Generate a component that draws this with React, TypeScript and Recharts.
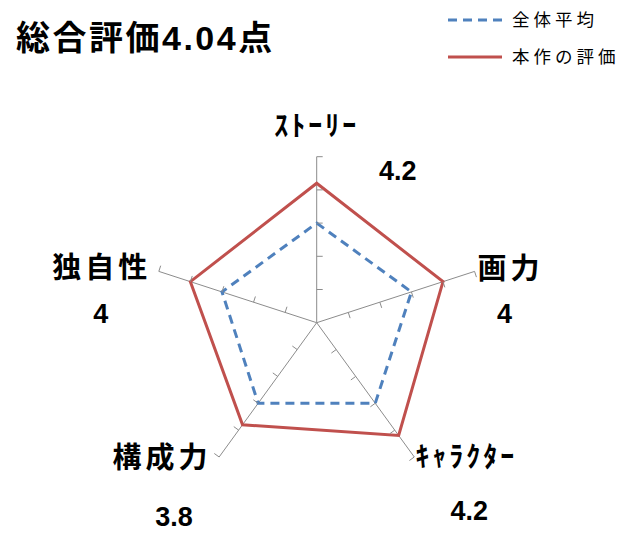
import React from 'react';
import { RadarChart, Radar, PolarGrid, PolarAngleAxis, PolarRadiusAxis, Legend } from 'recharts';

const categories = ['ｽﾄｰﾘｰ', '画力', 'ｷｬﾗｸﾀｰ', '構成力', '独自性'];
const averageScores = [3, 3, 3, 3, 3];
const workScores = [4.2, 4, 4.2, 3.8, 4];
const seriesNames = ['全体平均', '本作の評価'];
const radiusDomain = [0, 5];
const titleText = '総合評価4.04点';

const data = categories.map((c, i) => ({ subject: c, avg: averageScores[i], work: workScores[i] }));

const W = 634;
const H = 541;
const CX = 316.7;
const CY = 322.7;
const R = 166;
const START_ANGLE = 90;
const AXIS_COLOR = '#8c8c8c';
const BLUE = '#4F81BD';
const RED = '#C0504D';
const NAME_OFFSETS = [[0, -31], [36, -3], [52, 0], [-57, 1], [-57, -4]];
const VALUE_OFFSETS = [[81, 14], [30, 42], [55, 53], [-45, 59], [-58, 42]];
const CJK = "'Noto Sans CJK JP', sans-serif";
const NUM = "'Liberation Sans', Arial, 'Noto Sans CJK JP', sans-serif";

const AngleTick = (props: any) => {
  const { x, y, payload, index } = props;
  const i = typeof index === 'number' ? index : payload?.index ?? 0;
  const dx = x - CX;
  const dy = y - CY;
  const d = Math.hypot(dx, dy) || 1;
  const ex = CX + (R * dx) / d;
  const ey = CY + (R * dy) / d;
  const [nx, ny] = NAME_OFFSETS[i];
  const [vx, vy] = VALUE_OFFSETS[i];
  const halfWidth = /[\uFF61-\uFF9F]/.test(String(payload.value));
  return (
    <g>
      <text
        x={ex + nx}
        y={ey + ny}
        dy="0.36em"
        textAnchor="middle"
        fontFamily={CJK}
        fontWeight={700}
        fontSize={halfWidth ? 28 : 29}
        letterSpacing={halfWidth ? 3 : 4}
        fill="#000"
      >
        {payload.value}
      </text>
      <text
        x={ex + vx}
        y={ey + vy}
        dy="0.36em"
        textAnchor="middle"
        fontFamily={NUM}
        fontWeight={700}
        fontSize={27}
        fill="#000"
      >
        {String(workScores[i])}
      </text>
    </g>
  );
};

const RadiusTick = (props: any) => {
  const { x, y, payload } = props;
  if (!payload || Number(payload.value) === 0) return <g />;
  const r = Math.hypot(x - CX, y - CY);
  const step = 360 / categories.length;
  return (
    <g>
      {categories.map((_, k) => {
        const th = ((START_ANGLE - step * k) * Math.PI) / 180;
        const px = CX + r * Math.cos(th);
        const py = CY - r * Math.sin(th);
        const tx = Math.cos(th - Math.PI / 2);
        const ty = -Math.sin(th - Math.PI / 2);
        return (
          <line key={k} x1={px} y1={py} x2={px + 6 * tx} y2={py + 6 * ty} stroke={AXIS_COLOR} strokeWidth={1} />
        );
      })}
    </g>
  );
};

const LegendContent = (props: any) => {
  const items = props.payload || [];
  return (
    <svg width={194} height={76} style={{ display: 'block' }}>
      {items.map((it: any, i: number) => {
        const y = 16 + i * 37;
        const dash = it.payload?.strokeDasharray ?? (it.value === seriesNames[0] ? '9 6' : undefined);
        return (
          <g key={i}>
            <line x1={8} x2={62} y1={y} y2={y} stroke={it.color} strokeWidth={3} strokeDasharray={dash} />
            <text x={72} y={y} dy="0.36em" fontFamily={CJK} fontSize={17.5} letterSpacing={4} fill="#000">
              {it.value}
            </text>
          </g>
        );
      })}
    </svg>
  );
};

export default function App() {
  return (
    <div style={{ position: 'absolute', left: 0, top: 0, width: W, height: H, background: '#fff' }}>
      <svg width={300} height={70} style={{ position: 'absolute', left: 0, top: 0 }}>
        <text x={16} y={37.5} dy="0.36em" fontFamily={NUM} fontWeight={700} fontSize={34} letterSpacing={2.5} fill="#000">
          {titleText}
        </text>
      </svg>
      <div style={{ position: 'absolute', left: 0, top: 0 }}>
        <RadarChart width={W} height={H} data={data} cx={CX} cy={CY} outerRadius={R} startAngle={START_ANGLE} endAngle={START_ANGLE - 360}>
          <PolarGrid gridType="polygon" polarRadius={[]} stroke={AXIS_COLOR} strokeWidth={1} />
          <PolarAngleAxis dataKey="subject" axisLine={false} tickLine={false} tick={AngleTick} />
          <PolarRadiusAxis
            angle={START_ANGLE}
            type="number"
            domain={radiusDomain}
            tickCount={6}
            axisLine={false}
            tick={RadiusTick}
          />
          <Radar
            name={seriesNames[0]}
            dataKey="avg"
            stroke={BLUE}
            strokeWidth={3}
            strokeDasharray="9 6"
            fill="none"
            fillOpacity={0}
            dot={false}
            isAnimationActive={false}
          />
          <Radar
            name={seriesNames[1]}
            dataKey="work"
            stroke={RED}
            strokeWidth={3}
            fill="none"
            fillOpacity={0}
            dot={false}
            isAnimationActive={false}
          />
          <Legend
            layout="vertical"
            verticalAlign="top"
            align="right"
            wrapperStyle={{ position: 'absolute', left: 440, top: 4, width: 194 }}
            content={LegendContent}
          />
        </RadarChart>
      </div>
    </div>
  );
}
